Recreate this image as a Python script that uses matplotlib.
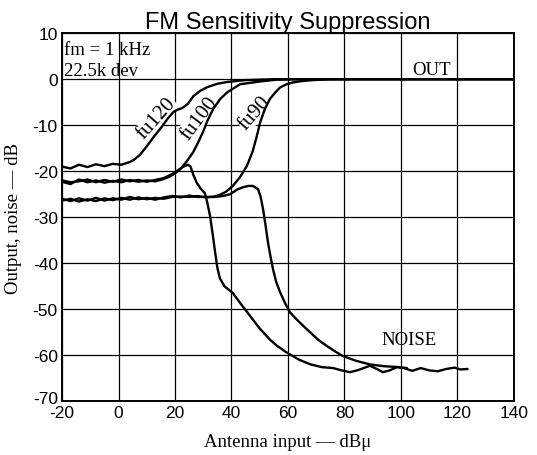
import matplotlib.pyplot as plt
from matplotlib.transforms import ScaledTranslation

plt.rcParams['axes.unicode_minus'] = False

# output curves
fu120_x = [-20, -17, -14, -11, -8, -5, -2, 1, 4, 5.5, 7.5, 10, 12.5, 15, 17.5, 19.5, 21, 22.5,
           24.5, 26.5, 29, 31.5, 35, 38.5, 45, 55, 140]
fu120_y = [-19, -19.4, -18.6, -19.1, -18.5, -18.9, -18.4, -18.6, -18.0, -17.5, -16.5, -14.6, -12.5,
           -10.6, -8.5, -7.1, -6.6, -6.3, -5.4, -3.7, -2.5, -1.7, -1.0, -0.6, -0.2, 0, 0]

fu100_x = [-20, -17, -14, -11, -8, -5, -2, 1, 4, 7, 10, 13, 16, 18, 20, 21.8, 24, 26.4, 28, 29.9,
           31.5, 33.5, 36, 38.4, 43, 50, 56, 65, 140]
fu100_y = [-22.3, -22.8, -21.8, -22.4, -22.0, -22.5, -22.1, -22.4, -21.9, -22.3, -22.0, -22.2, -21.7,
           -21.2, -20.5, -19.6, -18.0, -15.9, -14.0, -11.5, -9.0, -6.5, -4.3, -2.9, -1.1, -0.5, -0.1, 0, 0]

fu90_x = [-20, -17, -14, -11, -8, -5, -2, 1, 4, 7, 10, 13, 16, 19, 22, 25, 28, 31, 34, 36, 38, 40.5,
          43, 45.5, 47.5, 49, 50.1, 51.8, 53.6, 55.5, 57.2, 59.5, 61.8, 65, 68.8, 75, 140]
fu90_y = [-26.4, -26.0, -26.6, -26.1, -26.5, -25.9, -26.3, -25.8, -26.2, -25.7, -26.1, -25.8, -26.0,
          -25.6, -25.5, -25.6, -25.4, -25.7, -25.5, -25.1, -24.5, -23.2, -21.3, -18.8, -15.7, -12.3,
          -9.5, -6.5, -4.3, -2.9, -1.8, -1.1, -0.7, -0.4, -0.2, 0, 0]

# noise curves
noise_a_x = [-20, -17, -14, -11, -8, -5, -2, 1, 4, 7, 10, 13, 16, 19, 21.5, 23, 24.6, 25.5, 26.5,
             27.7, 29, 30.6, 31.5, 32.4, 33.3, 34.2, 35, 35.9, 37.5, 40.5, 43, 46.5, 50, 53.6, 56,
             59.5, 64, 68, 72, 76, 79, 82, 85, 89, 91.5, 93.6, 96, 98.6, 101, 104, 107, 110, 113,
             116, 119, 121, 123.5]
noise_a_y = [-22.0, -22.4, -22.2, -21.8, -22.4, -21.9, -22.3, -21.8, -22.2, -21.9, -22.3, -21.9, -21.5,
             -20.6, -19.6, -19.0, -18.6, -19.0, -20.8, -22.5, -23.7, -24.8, -27.0, -29.7, -33.5, -37.6,
             -41.0, -43.3, -45.0, -46.5, -48.6, -51.4, -54.2, -56.6, -57.9, -59.4, -61.0, -62.0, -62.6,
             -62.8, -63.3, -63.7, -63.2, -62.3, -63.0, -63.7, -63.3, -62.6, -62.8, -63.4, -62.8, -63.3,
             -63.5, -63.0, -62.7, -63.1, -63.0]

noise_b_x = [-20, -17, -14, -11, -8, -5, -2, 1, 4, 7, 10, 13, 16, 19, 22, 25, 28, 31, 34, 37, 39.5,
             42, 44, 46, 47.6, 49.4, 50.3, 51.2, 52, 52.9, 53.8, 54.7, 55.8, 57.2, 59, 60.7, 64, 67.8,
             71, 74, 77, 79.5, 84, 89, 94, 99.6, 102]
noise_b_y = [-26.0, -26.5, -25.9, -26.4, -25.8, -26.4, -25.9, -26.2, -25.6, -26.1, -25.8, -26.2, -25.7,
             -25.4, -25.7, -25.3, -25.6, -25.6, -25.6, -25.4, -25.0, -24.0, -23.5, -23.2, -23.2, -23.9,
             -25.5, -28.3, -31.5, -35.4, -38.5, -41.3, -44.0, -46.3, -48.7, -50.7, -52.8, -55.0, -56.8,
             -58.1, -59.3, -60.2, -61.2, -62.0, -62.4, -62.6, -62.8]

x_ticks = [-20, 0, 20, 40, 60, 80, 100, 120, 140]
y_ticks = [10, 0, -10, -20, -30, -40, -50, -60, -70]

serif = 'Liberation Serif'
sans = 'Liberation Sans'

fig = plt.figure(figsize=(5.37, 4.56), dpi=100)
ax = fig.add_axes([0.1155, 0.118, 0.8415, 0.807])

for xs, ys in [(fu120_x, fu120_y), (fu100_x, fu100_y), (fu90_x, fu90_y),
               (noise_a_x, noise_a_y), (noise_b_x, noise_b_y)]:
    ax.plot(xs, ys, color='black', lw=1.7, solid_joinstyle='round', zorder=3)

ax.set_xlim(-20, 140)
ax.set_ylim(-70, 10)
ax.set_xticks(x_ticks)
ax.set_yticks(y_ticks)
ax.grid(True, color='black', lw=0.9)
ax.tick_params(length=0, labelsize=12.5, pad=3)
for lab in ax.get_xticklabels() + ax.get_yticklabels():
    lab.set_fontfamily(sans)
# the bottom y label sits a little higher, as in the scan
low = ax.get_yticklabels()[-1]
low.set_transform(low.get_transform() + ScaledTranslation(0, 3 / 72, fig.dpi_scale_trans))
for sp in ax.spines.values():
    sp.set_linewidth(1.4)

ax.set_title('FM Sensitivity Suppression', fontsize=17, family=sans, pad=3)
ax.set_xlabel('Antenna input — dBμ', fontsize=13.5, family=serif, labelpad=9)
ax.set_ylabel('Output, noise — dB', fontsize=13.5, family=serif, labelpad=8)

ax.text(-19.3, 6.5, 'fm = 1 kHz', fontsize=13.5, family=serif, va='center', ha='left')
ax.text(-19.3, 1.8, '22.5k dev', fontsize=13.5, family=serif, va='center', ha='left')
ax.text(111, 2.2, 'OUT', fontsize=13.5, family=serif, va='center', ha='center')
ax.text(103, -56.5, 'NOISE', fontsize=13.5, family=serif, va='center', ha='center')
for lbl, lx, ly, rot in [('fu120', 13.4, -8.5, 48), ('fu100', 28.5, -8.3, 53), ('fu90', 48.0, -7.2, 49)]:
    ax.text(lx, ly, lbl, fontsize=15, family=serif, rotation=rot, va='center', ha='center',
            rotation_mode='anchor',
            bbox=dict(facecolor='white', edgecolor='none', pad=0.3), zorder=2.5)

fig.savefig('out.png', dpi=100)
